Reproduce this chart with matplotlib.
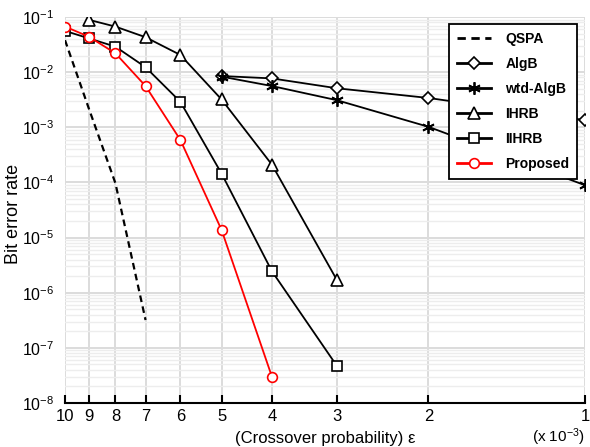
import matplotlib
matplotlib.use("Agg")
import matplotlib.pyplot as plt
from matplotlib.ticker import FixedLocator, LogLocator, NullFormatter, FixedFormatter

plt.rcParams['font.family'] = ['Liberation Sans', 'DejaVu Sans']
plt.rcParams['mathtext.fontset'] = 'custom'
plt.rcParams['mathtext.rm'] = 'Liberation Sans'
plt.rcParams['mathtext.it'] = 'Liberation Sans:italic'
plt.rcParams['mathtext.default'] = 'regular'

# crossover probability (x 1e-3)
eps_qspa = [10, 9, 8, 7]
ber_qspa = [3.8e-2, 2.2e-3, 9.7e-5, 3.2e-7]

eps_algb = [5, 4, 3, 2, 1]
ber_algb = [8.5e-3, 7.7e-3, 5.1e-3, 3.4e-3, 1.35e-3]

eps_wtd = [5, 4, 3, 2, 1]
ber_wtd = [8.3e-3, 5.6e-3, 3.1e-3, 1.02e-3, 8.9e-5]

eps_ihrb = [9, 8, 7, 6, 5, 4, 3]
ber_ihrb = [8.9e-2, 6.7e-2, 4.3e-2, 2.05e-2, 3.2e-3, 2.1e-4, 1.7e-6]

eps_iihrb = [10, 9, 8, 7, 6, 5, 4, 3]
ber_iihrb = [5.6e-2, 4.1e-2, 2.9e-2, 1.23e-2, 2.9e-3, 1.45e-4, 2.45e-6, 4.7e-8]

eps_prop = [10, 9, 8, 7, 6, 5, 4]
ber_prop = [6.7e-2, 4.4e-2, 2.2e-2, 5.6e-3, 5.9e-4, 1.38e-5, 3.0e-8]

xticks = [10, 9, 8, 7, 6, 5, 4, 3, 2, 1]
xticklabels = ['10', '9', '8', '7', '6', '5', '4', '3', '2', '1']
yticks = [1e-8, 1e-7, 1e-6, 1e-5, 1e-4, 1e-3, 1e-2, 1e-1]
yticklabels = ['$10^{-8}$', '$10^{-7}$', '$10^{-6}$', '$10^{-5}$', '$10^{-4}$', '$10^{-3}$', '$10^{-2}$', '$10^{-1}$']

fig = plt.figure(figsize=(5.9, 4.47), dpi=100)
ax = fig.add_axes([65/590, 1-403/447, 520/590, 386/447])

lw = 1.3
mew = 1.2
ax.plot(eps_qspa, ber_qspa, 'k--', lw=1.6, label='QSPA', dashes=(3, 2))
ax.plot(eps_algb, ber_algb, color='k', lw=lw, marker='D', ms=6.5, mfc='white', mec='k', mew=mew, label='AlgB')
ax.plot(eps_wtd, ber_wtd, color='k', lw=lw, marker=(6, 2, 0), ms=9, mec='k', mew=1.3, label='wtd-AlgB')
ax.plot(eps_ihrb, ber_ihrb, color='k', lw=lw, marker='^', ms=8.5, mfc='white', mec='k', mew=mew, label='IHRB')
ax.plot(eps_iihrb, ber_iihrb, color='k', lw=lw, marker='s', ms=7, mfc='white', mec='k', mew=mew, label='IIHRB')
ax.plot(eps_prop, ber_prop, color='#ff0000', lw=lw, marker='o', ms=7, mfc='white', mec='#ff0000', mew=mew, label='Proposed')

ax.set_xscale('log')
ax.set_yscale('log')
ax.set_xlim(10, 1)
ax.set_ylim(1e-8, 1e-1)

ax.xaxis.set_major_locator(FixedLocator(xticks))
ax.xaxis.set_major_formatter(FixedFormatter(xticklabels))
ax.xaxis.set_minor_locator(FixedLocator([]))
ax.yaxis.set_major_locator(FixedLocator(yticks))
ax.yaxis.set_major_formatter(FixedFormatter(yticklabels))
ax.yaxis.set_minor_locator(LogLocator(base=10, subs=range(2, 10), numticks=20))
ax.yaxis.set_minor_formatter(NullFormatter())

ax.grid(True, which='major', color='#dcdcdc', lw=1.4)
ax.grid(True, which='minor', axis='y', color='#ededed', lw=1.0)
ax.set_axisbelow(True)

for s in ['top', 'right', 'left']:
    ax.spines[s].set_visible(False)
ax.spines['bottom'].set_linewidth(1.5)
ax.tick_params(axis='x', which='major', direction='in', length=6, width=1.5, labelsize=12, pad=4)
ax.tick_params(axis='y', which='both', length=0, labelsize=11.5, pad=8)

ax.set_ylabel('Bit error rate', fontsize=13)
ax.yaxis.set_label_coords((22-65)/520, (403-214)/386)
ax.set_xlabel('(Crossover probability) ε', fontsize=12, labelpad=5)
fig.text(585/590, 1-437/447, '(x $10^{-3}$)', ha='right', va='center', fontsize=11)

leg = ax.legend(loc='upper right', prop={'weight': 'bold', 'size': 10}, frameon=True, fancybox=False,
                edgecolor='k', framealpha=1, handlelength=2.5, borderpad=0.55, labelspacing=0.8,
                handletextpad=1.0, borderaxespad=0)
leg.get_frame().set_linewidth(1.3)
leg.set_bbox_to_anchor((577/590, 1-24/447), transform=fig.transFigure)
for h in leg.get_lines():
    h.set_linewidth(2.0)

fig.savefig('out.png', dpi=100)
